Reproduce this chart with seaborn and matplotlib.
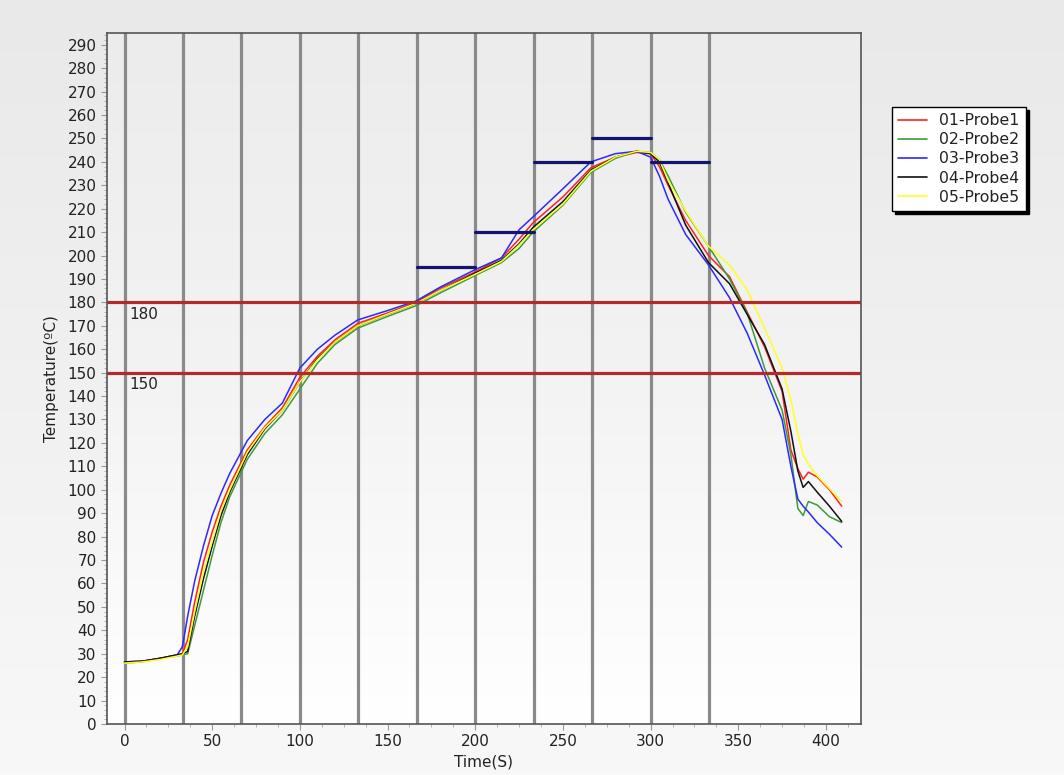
import numpy as np
import pandas as pd
import matplotlib
matplotlib.use("Agg")
import matplotlib.pyplot as plt
from matplotlib.ticker import MultipleLocator
import seaborn as sns

# time axis (s) shared by all probes
time_s = [0, 10, 20, 30, 33, 36, 40, 45, 50, 55, 60, 70, 80, 90, 100, 110, 120, 133,
          150, 166, 180, 200, 215, 225, 233, 250, 266, 280, 292, 300, 305, 310, 320,
          333, 345, 355, 365, 375, 380, 384, 387, 390, 395, 402, 409]

probe1 = [26.5, 26.8, 28, 29.5, 30, 36, 52, 69, 82, 93, 102, 117, 127, 135, 148, 157, 164, 171,
          175.5, 180, 186, 193, 199, 207, 214, 225, 237.5, 242, 244, 243.5, 238, 230, 215,
          200, 191, 176, 161, 142, 117, 109, 104.5, 107.5, 105.5, 100, 93]
probe2 = [26, 26.5, 28, 29, 29.5, 30, 42, 57, 72, 86, 97, 113, 124, 132, 143, 154, 162, 169,
          174, 178.5, 184, 191.5, 197, 203, 210, 221.5, 235.5, 241.5, 244.5, 244, 241, 234, 218.5,
          204, 190, 175.6, 152, 134, 115, 92, 89, 95, 93.5, 88.5, 86]
probe3 = [26.5, 26.8, 28, 29.5, 33, 46, 61, 76, 89, 98.5, 107, 121, 130, 137, 152, 160, 166, 172.5,
          176.5, 180.5, 186.5, 194, 199, 211, 216.5, 228.5, 240, 243.5, 244.5, 242, 234, 224, 209,
          196, 182, 167, 149, 130, 110, 96, 93, 90.5, 86, 81, 75.5]
probe4 = [26.5, 26.8, 28, 29.5, 30, 31, 46, 62, 76, 89, 99, 115, 126, 134, 146, 156, 163, 170,
          175, 179.5, 185, 192.5, 198, 205, 212, 223, 236.5, 242, 244.5, 243.5, 240, 231, 213,
          197, 188, 175, 162, 143, 125, 108, 101, 103.5, 99, 93, 86.5]
probe5 = [26, 26.5, 27.5, 29, 29.5, 33, 48, 65, 78, 91, 100, 116, 126.5, 134, 146, 155.5, 163, 170,
          175, 179.5, 185, 192, 197.5, 204.5, 211, 222, 236, 242, 244.5, 244, 241, 232, 219,
          204, 196, 185.5, 169, 152, 138.5, 124, 115, 111, 106, 100.5, 95]

probe_names = ["01-Probe1", "02-Probe2", "03-Probe3", "04-Probe4", "05-Probe5"]
probe_colors = ["#ff2020", "#3c9c3c", "#2a2aff", "#111111", "#ffff20"]

# oven zone boundaries and set points
zone_edges = [0, 100 / 3, 200 / 3, 100, 400 / 3, 500 / 3, 200, 700 / 3, 800 / 3, 300, 1000 / 3]
setpoint_start = [500 / 3, 200, 700 / 3, 800 / 3, 300]
setpoint_end = [200, 700 / 3, 800 / 3, 300, 1000 / 3]
setpoint_temp = [195, 210, 240, 250, 240]
ref_temps = [180, 150]

rows = []
for name, vals in zip(probe_names, [probe1, probe2, probe3, probe4, probe5]):
    for t, v in zip(time_s, vals):
        rows.append({"Time": t, "Temp": v, "Probe": name})
df = pd.DataFrame(rows)

sns.set_style("ticks")
plt.rcParams["font.family"] = ["DejaVu Sans"]

fig = plt.figure(figsize=(10.64, 7.75), dpi=100)
fig.patch.set_facecolor("#ececec")

# soft background gradient for the figure
bg = fig.add_axes([0, 0, 1, 1], zorder=-10)
grad = np.linspace(0, 1, 256).reshape(-1, 1)
bg.imshow(grad, extent=[0, 1, 0, 1], aspect="auto", cmap=matplotlib.colors.LinearSegmentedColormap.from_list("bgf", ["#e9e9e9", "#f8f8f8"]), origin="upper")
bg.axis("off")

ax = fig.add_axes([107 / 1064, 51 / 775, 754 / 1064, 691 / 775])
ax.set_xlim(-10, 420)
ax.set_ylim(0, 295)

# plot area gradient: light grey top to white bottom
cmap_ax = matplotlib.colors.LinearSegmentedColormap.from_list("bga", ["#ececec", "#f3f3f3", "#ffffff"])
ax.imshow(grad, extent=[-10, 420, 0, 295], aspect="auto", cmap=cmap_ax, origin="upper", zorder=0)

for xe in zone_edges:
    ax.axvline(xe, color="#8a8a8a", lw=2.3, zorder=1)

sns.lineplot(data=df, x="Time", y="Temp", hue="Probe", palette=probe_colors,
             estimator=None, linewidth=1.1, ax=ax, zorder=3)

for x0, x1, tp in zip(setpoint_start, setpoint_end, setpoint_temp):
    ax.plot([x0, x1], [tp, tp], color="#14146e", lw=2.3, zorder=4)

for rt in ref_temps:
    ax.axhline(rt, color="#b3292c", lw=2.3, zorder=4)
    ax.text(3, rt - 2, str(rt), ha="left", va="top", fontsize=11, color="#222222", zorder=5)

ax.xaxis.set_major_locator(MultipleLocator(50))
ax.xaxis.set_minor_locator(MultipleLocator(12.5))
ax.yaxis.set_major_locator(MultipleLocator(10))
ax.yaxis.set_minor_locator(MultipleLocator(2))
ax.tick_params(axis="both", which="major", labelsize=11, length=4, color="#999999", labelcolor="#222222")
ax.tick_params(axis="both", which="minor", length=2, color="#aaaaaa")
for sp in ax.spines.values():
    sp.set_color("#555555")
    sp.set_linewidth(1.2)
    sp.set_zorder(6)

ax.set_xlabel("Time(S)", fontsize=11, color="#222222", labelpad=4)
ax.set_ylabel("Temperature(ºC)", fontsize=11, color="#222222", labelpad=6)

leg = ax.legend(loc="upper left", bbox_to_anchor=(892 / 1064, 1 - 107 / 775),
                bbox_transform=fig.transFigure, frameon=True, fancybox=False,
                shadow={"color": "black", "alpha": 1}, fontsize=11.3,
                handlelength=1.8, labelspacing=0.26, borderaxespad=0, borderpad=0.4)
leg.get_frame().set_edgecolor("black")
leg.get_frame().set_linewidth(1.0)
leg.get_frame().set_facecolor("white")
for line in leg.get_lines():
    line.set_linewidth(1.2)
for txt in leg.get_texts():
    txt.set_color("#222222")

fig.savefig("out.png", dpi=100, facecolor=fig.get_facecolor())
